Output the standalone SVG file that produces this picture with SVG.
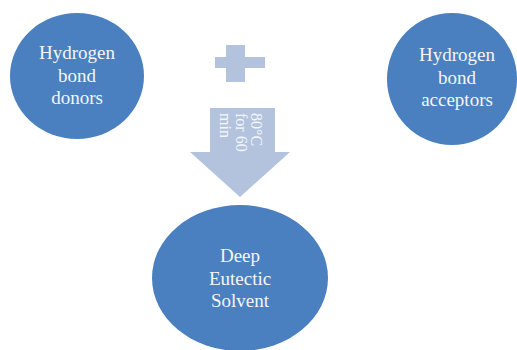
<svg xmlns="http://www.w3.org/2000/svg" width="517" height="350" viewBox="0 0 517 350">
<style>
.node{fill:#4a80bf}
.light{fill:#b3c3de}
.lbl{font-family:"Liberation Serif","Times New Roman",serif;font-size:19px;fill:#f4f6fa;text-anchor:middle}
.alb{font-family:"Liberation Serif","Times New Roman",serif;font-size:16px;fill:#f4f6fa}
</style>
<rect width="517" height="350" fill="#ffffff"/>
<g id="donors">
<ellipse class="node" cx="77" cy="76" rx="67" ry="63"/>
<text class="lbl" x="77" y="59">Hydrogen<tspan x="77" dy="22.5">bond</tspan><tspan x="77" dy="22.5">donors</tspan></text>
</g>
<g id="acceptors">
<ellipse class="node" cx="452" cy="79" rx="65" ry="66"/>
<text class="lbl" x="457" y="61">Hydrogen<tspan x="457" dy="22.5">bond</tspan><tspan x="457" dy="22.5">acceptors</tspan></text>
</g>
<g id="plus">
<path class="light" d="M226,45 H245 V57 H265 V68 H245 V82 H226 V68 H215 V57 H226 Z"/>
</g>
<g id="connectors">
<path class="light" d="M210,108 H275 V152 H290 L240,197 L190,152 H210 Z"/>
<text class="alb" transform="translate(251,113) rotate(90)" x="0" y="0">80°C<tspan x="0" dy="15.5">for 60</tspan><tspan x="0" dy="15.5">min</tspan></text>
</g>
<g id="des">
<ellipse class="node" cx="240" cy="278" rx="88" ry="73"/>
<text class="lbl" x="240" y="262">Deep<tspan x="240" dy="22.5">Eutectic</tspan><tspan x="240" dy="22.5">Solvent</tspan></text>
</g>
</svg>
